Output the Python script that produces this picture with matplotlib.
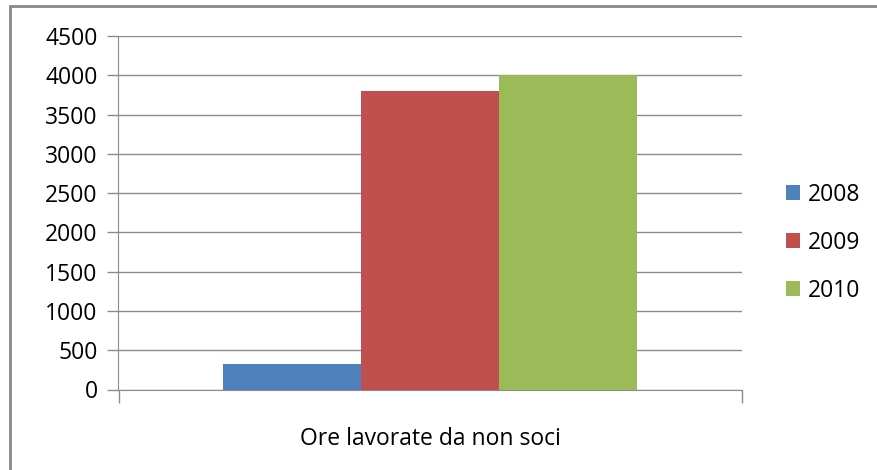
import matplotlib.pyplot as plt
from matplotlib.patches import Rectangle

# ======= Data =======
category = "Ore lavorate da non soci"
years = ["2008", "2009", "2010"]
hours = [320, 3800, 4000]
colors = ["#4F81BD", "#C0504D", "#9BBB59"]

plt.rcParams['font.family'] = ['Open Sans', 'DejaVu Sans']
fs = 16.5

W, H = 877, 470
fig = plt.figure(figsize=(W / 100, H / 100), dpi=100)

# chart area frame (runs off right and bottom edges)
fig.patches.append(Rectangle((10 / W, -0.1), 1.2, 1 - 6 / H + 0.1,
                             transform=fig.transFigure, fill=False,
                             edgecolor="#888888", linewidth=2))

ax = fig.add_axes([118.5 / W, 1 - 389.5 / H, 623 / W, 353.5 / H])

bar_w = 0.222
offsets = [-bar_w, 0, bar_w]
for yr, val, col, off in zip(years, hours, colors, offsets):
    ax.bar(off, val, width=bar_w, color=col, label=yr, zorder=3)

ax.set_xlim(-0.5, 0.5)
ax.set_ylim(0, 4500)
ax.set_yticks(range(0, 4501, 500))
ax.set_xticks([-0.5, 0.5])
ax.set_xticklabels([])
ax.yaxis.grid(True, color="#8c8c8c", linewidth=1)
ax.set_axisbelow(True)

for s in ["top", "right"]:
    ax.spines[s].set_visible(False)
ax.spines["left"].set_color("#8c8c8c")
ax.spines["bottom"].set_color("#8c8c8c")
ax.tick_params(axis="y", length=8, width=1, color="#8c8c8c", pad=7,
               labelsize=fs, labelcolor="#000000")
ax.tick_params(axis="x", length=9, width=1, color="#8c8c8c")

ax.text(0, -0.14, category, transform=ax.get_xaxis_transform(),
        ha="center", va="center", fontsize=fs)

ax.legend(loc="center left", bbox_to_anchor=(1.038, 0.415), frameon=False,
          fontsize=fs, handlelength=0.62, handleheight=0.62, handletextpad=0.35,
          labelspacing=1.05)

fig.savefig("out.png", dpi=100)
